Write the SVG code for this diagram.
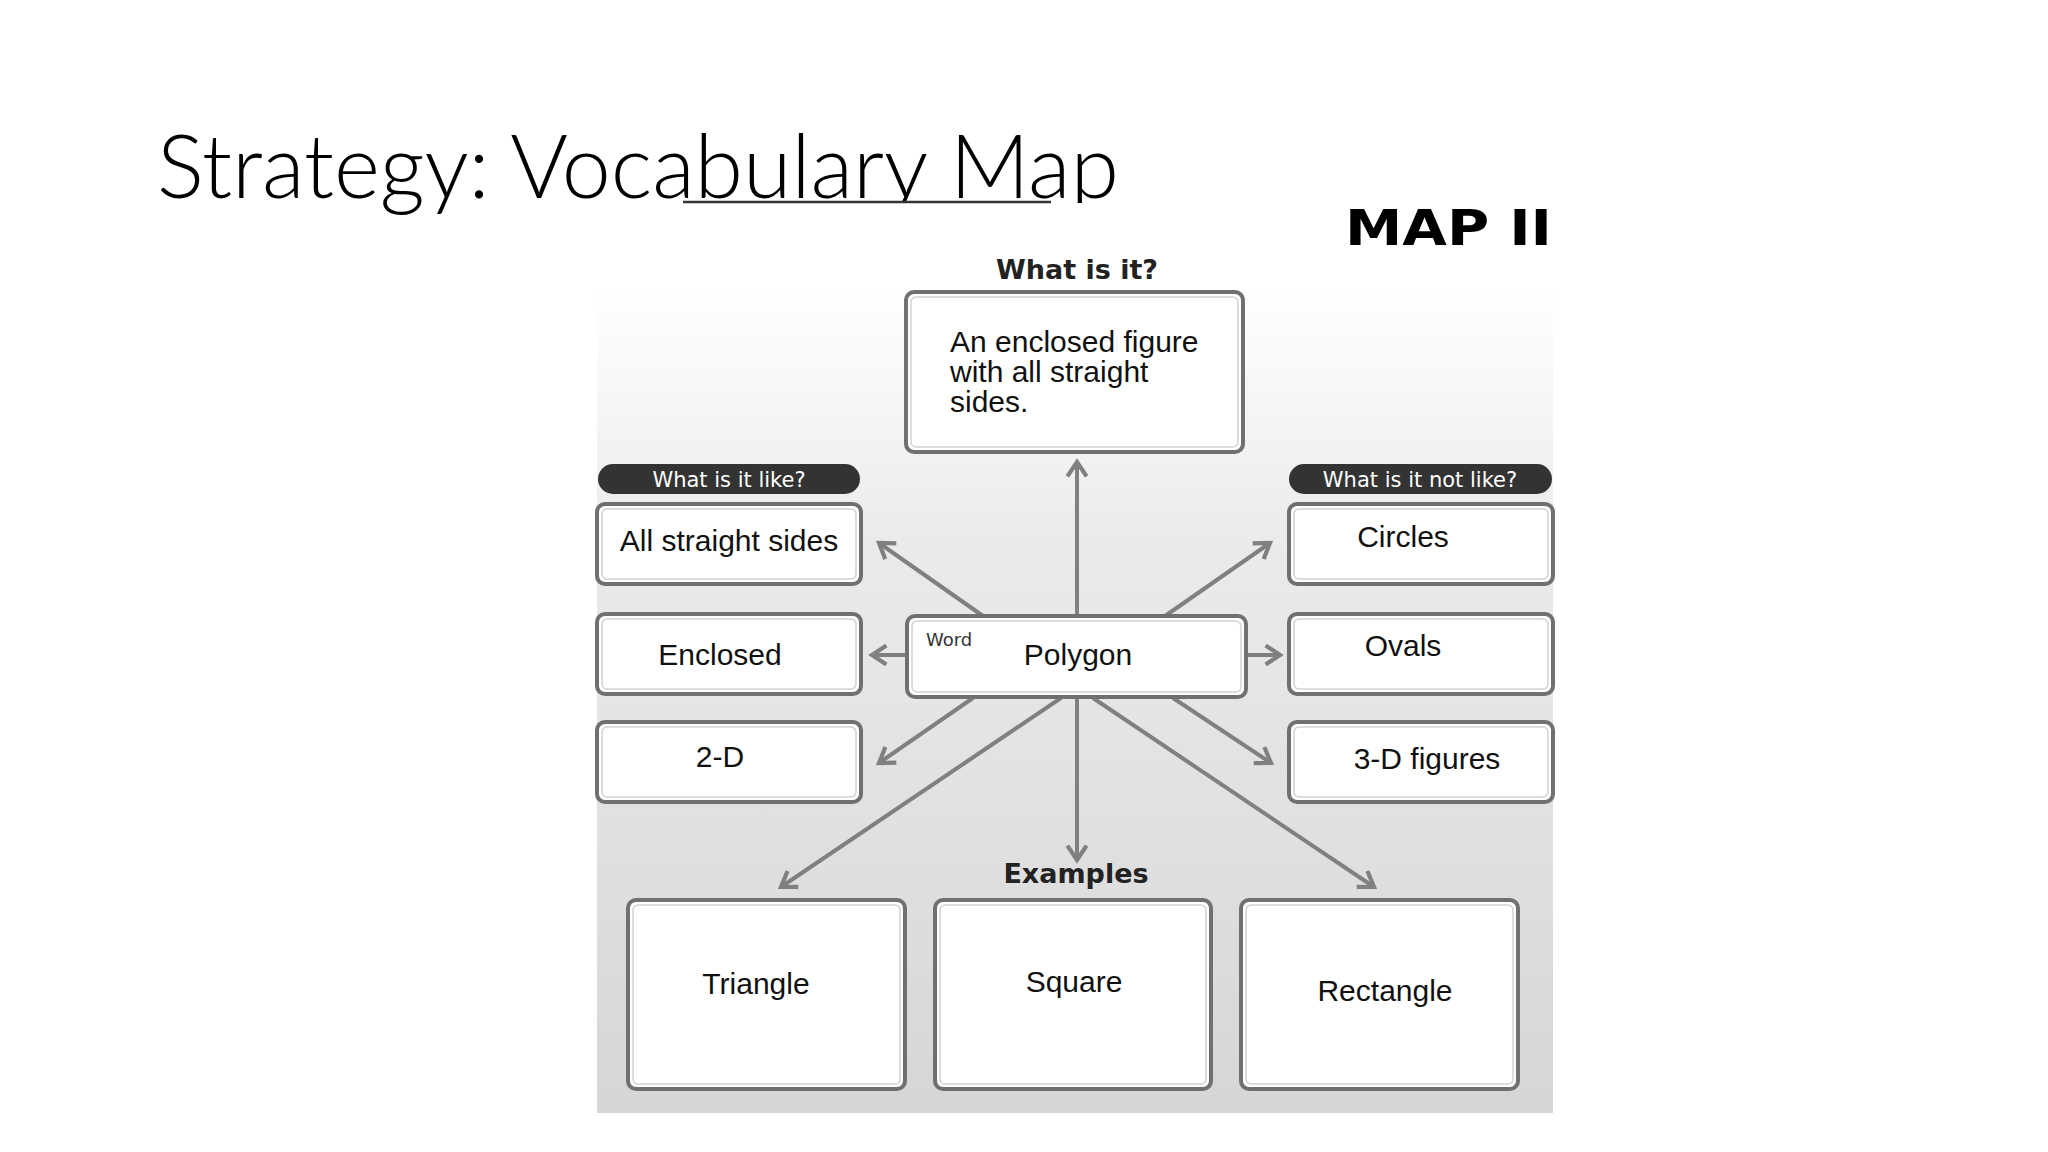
<svg xmlns="http://www.w3.org/2000/svg" width="2048" height="1152" viewBox="0 0 2048 1152">
  <style>
    .title { font-family: Lato, "Liberation Sans", sans-serif; font-weight: 300; font-size: 88px; fill: #000; }
    .box { fill: #ffffff; stroke: #707070; stroke-width: 4; }
    .inner { fill: none; stroke: #d2d2d2; stroke-width: 1.5; }
    .pill { fill: #333333; }
    .pilltxt { font-family: "DejaVu Sans", sans-serif; font-size: 21px; fill: #ffffff; text-anchor: middle; }
    .head { font-family: "DejaVu Sans", sans-serif; font-weight: bold; font-size: 27px; fill: #222; text-anchor: middle; }
    .hand { font-family: "Liberation Sans", sans-serif; font-size: 30px; fill: #111; text-anchor: middle; }
    .handl { font-family: "Liberation Sans", sans-serif; font-size: 30px; fill: #111; }
    .conn { stroke: #808080; stroke-width: 4; fill: none; marker-end: url(#arr); }
  </style>
  <defs>
    <linearGradient id="panelGrad" x1="0" y1="0" x2="0" y2="1">
      <stop offset="0" stop-color="#ffffff"/>
      <stop offset="0.3" stop-color="#ebebeb"/>
      <stop offset="1" stop-color="#d6d6d6"/>
    </linearGradient>
    <marker id="arr" viewBox="0 0 20 20" refX="17" refY="10" markerWidth="24" markerHeight="24" markerUnits="userSpaceOnUse" orient="auto">
      <path d="M5,2 L17,10 L5,18" fill="none" stroke="#808080" stroke-width="3.5"/>
    </marker>
  </defs>

  <rect width="2048" height="1152" fill="#ffffff"/>

  <g id="title">
    <text class="title" x="157" y="198" textLength="962" lengthAdjust="spacing">Strategy: Vocabulary Map</text>
  </g>

  <rect id="image-top" x="597" y="203" width="956" height="90" fill="#ffffff"/>
  <line id="title-underline" x1="683" y1="202" x2="1051" y2="202" stroke="#333" stroke-width="2.5"/>
  <rect id="panel" x="597" y="290" width="956" height="823" fill="url(#panelGrad)"/>

  <g id="map-label">
    <text x="1345" y="245" font-family="DejaVu Sans, sans-serif" font-weight="900" font-size="50" fill="#000" textLength="207" lengthAdjust="spacingAndGlyphs">MAP II</text>
  </g>

  <g id="connectors">
    <line class="conn" x1="1077" y1="616" x2="1077" y2="462"/>
    <line class="conn" x1="983" y1="616" x2="879" y2="543"/>
    <line class="conn" x1="1165" y1="616" x2="1270" y2="543"/>
    <line class="conn" x1="907" y1="655" x2="872" y2="655"/>
    <line class="conn" x1="1246" y1="655" x2="1280" y2="655"/>
    <line class="conn" x1="973" y1="698" x2="879" y2="763"/>
    <line class="conn" x1="1173" y1="698" x2="1271" y2="763"/>
    <line class="conn" x1="1077" y1="698" x2="1077" y2="860"/>
    <line class="conn" x1="1061" y1="698" x2="781" y2="887"/>
    <line class="conn" x1="1093" y1="698" x2="1374" y2="887"/>
  </g>

  <g id="what-is-it">
    <text class="head" x="1077" y="279">What is it?</text>
    <rect class="box" x="906" y="292" width="337" height="160" rx="8"/>
    <rect class="inner" x="911" y="297" width="327" height="150" rx="5"/>
    <text class="handl" x="950" y="352">An enclosed figure</text>
    <text class="handl" x="950" y="382">with all straight</text>
    <text class="handl" x="950" y="412">sides.</text>
  </g>

  <g id="like-header">
    <rect class="pill" x="598" y="464" width="262" height="30" rx="15"/>
    <text class="pilltxt" x="729" y="487">What is it like?</text>
  </g>
  <g id="not-like-header">
    <rect class="pill" x="1289" y="464" width="263" height="30" rx="15"/>
    <text class="pilltxt" x="1420" y="487">What is it not like?</text>
  </g>

  <g id="like-1">
    <rect class="box" x="597" y="504" width="264" height="80" rx="8"/>
    <rect class="inner" x="602" y="509" width="254" height="70" rx="5"/>
    <text class="hand" x="729" y="551">All straight sides</text>
  </g>
  <g id="like-2">
    <rect class="box" x="597" y="614" width="264" height="80" rx="8"/>
    <rect class="inner" x="602" y="619" width="254" height="70" rx="5"/>
    <text class="hand" x="720" y="665">Enclosed</text>
  </g>
  <g id="like-3">
    <rect class="box" x="597" y="722" width="264" height="80" rx="8"/>
    <rect class="inner" x="602" y="727" width="254" height="70" rx="5"/>
    <text class="hand" x="720" y="767">2-D</text>
  </g>

  <g id="notlike-1">
    <rect class="box" x="1289" y="504" width="264" height="80" rx="8"/>
    <rect class="inner" x="1294" y="509" width="254" height="70" rx="5"/>
    <text class="hand" x="1403" y="547">Circles</text>
  </g>
  <g id="notlike-2">
    <rect class="box" x="1289" y="614" width="264" height="80" rx="8"/>
    <rect class="inner" x="1294" y="619" width="254" height="70" rx="5"/>
    <text class="hand" x="1403" y="656">Ovals</text>
  </g>
  <g id="notlike-3">
    <rect class="box" x="1289" y="722" width="264" height="80" rx="8"/>
    <rect class="inner" x="1294" y="727" width="254" height="70" rx="5"/>
    <text class="hand" x="1427" y="769">3-D figures</text>
  </g>

  <g id="word">
    <rect class="box" x="907" y="616" width="339" height="81" rx="8"/>
    <rect class="inner" x="912" y="621" width="329" height="71" rx="5"/>
    <text x="926" y="646" font-family="DejaVu Sans, sans-serif" font-size="18" fill="#333">Word</text>
    <text class="hand" x="1078" y="665" font-size="26">Polygon</text>
  </g>

  <g id="examples">
    <text class="head" x="1076" y="883">Examples</text>
  </g>
  <g id="example-1">
    <rect class="box" x="628" y="900" width="277" height="189" rx="8"/>
    <rect class="inner" x="633" y="905" width="267" height="179" rx="5"/>
    <text class="hand" x="756" y="994" font-size="28">Triangle</text>
  </g>
  <g id="example-2">
    <rect class="box" x="935" y="900" width="276" height="189" rx="8"/>
    <rect class="inner" x="940" y="905" width="266" height="179" rx="5"/>
    <text class="hand" x="1074" y="992" font-size="28">Square</text>
  </g>
  <g id="example-3">
    <rect class="box" x="1241" y="900" width="277" height="189" rx="8"/>
    <rect class="inner" x="1246" y="905" width="267" height="179" rx="5"/>
    <text class="hand" x="1385" y="1001" font-size="28">Rectangle</text>
  </g>
</svg>
